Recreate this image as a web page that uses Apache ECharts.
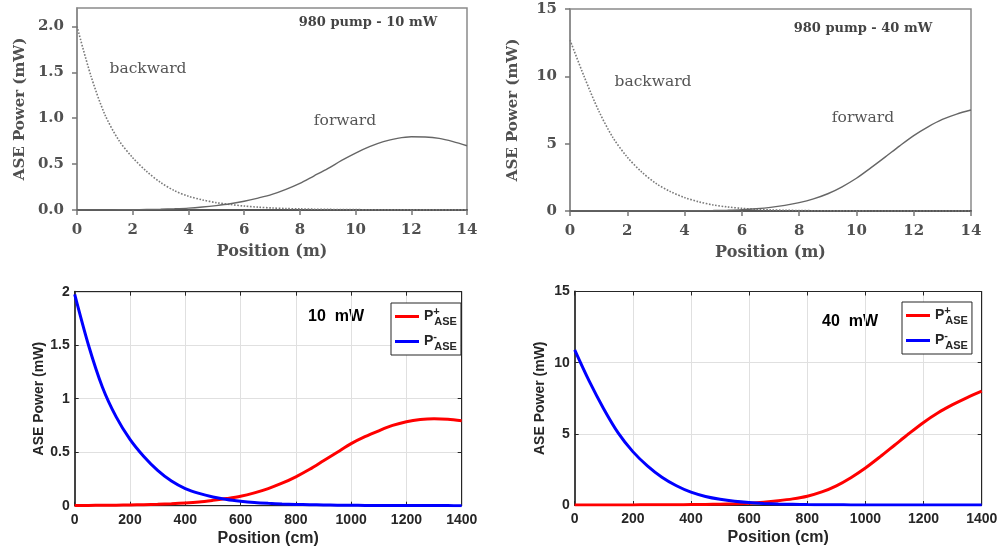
<!DOCTYPE html>
<html>
<head>
<meta charset="utf-8">
<script src="https://cdn.jsdelivr.net/npm/echarts@6/dist/echarts.min.js"></script>
<style>html,body{margin:0;padding:0;background:#fff;}#c{width:1001px;height:549px;}</style>
</head>
<body>
<div id="c"></div>
<script>
// ---- data ----
const posM = [0,0.5,1,1.5,2,2.5,3,3.5,4,4.5,5,5.5,6,6.5,7,7.5,8,8.5,9,9.5,10,10.5,11,11.5,12,12.5,13,13.5,14];
const back10 = [2.0,1.46,1.04,0.76,0.57,0.42,0.3,0.21,0.15,0.11,0.08,0.06,0.043,0.031,0.022,0.016,0.012,0.009,0.007,0.005,0.004,0.003,0.003,0.002,0.002,0.001,0.001,0.001,0.001];
const fwd10  = [0,0.001,0.001,0.002,0.003,0.005,0.008,0.013,0.02,0.032,0.048,0.068,0.095,0.13,0.17,0.225,0.29,0.37,0.45,0.54,0.62,0.69,0.745,0.78,0.797,0.795,0.78,0.745,0.7];
const back40 = [12.7,9.95,7.45,5.45,4.0,2.9,2.05,1.45,1.0,0.68,0.45,0.3,0.2,0.13,0.08,0.055,0.035,0.022,0.015,0.01,0.007,0.005,0.003,0.002,0.001,0.001,0,0,0];
const fwd40  = [0,0,0,0.001,0.002,0.003,0.005,0.007,0.01,0.02,0.035,0.06,0.1,0.17,0.27,0.42,0.62,0.9,1.28,1.8,2.43,3.2,4.0,4.82,5.6,6.25,6.8,7.2,7.5];

const posCm = [0,50,100,150,200,250,300,350,400,450,500,550,600,650,700,750,800,850,900,950,1000,1050,1100,1150,1200,1250,1300,1350,1400];
const pMinus10 = [1.975,1.5,1.11,0.83,0.62,0.46,0.33,0.23,0.16,0.115,0.082,0.058,0.042,0.03,0.022,0.016,0.012,0.009,0.007,0.005,0.004,0.003,0.003,0.002,0.002,0.001,0.001,0.001,0];
const pPlus10  = [0.002,0.003,0.004,0.005,0.007,0.009,0.013,0.018,0.025,0.035,0.05,0.067,0.088,0.12,0.16,0.21,0.27,0.34,0.42,0.5,0.58,0.645,0.7,0.75,0.785,0.805,0.812,0.808,0.795];
const pMinus40 = [10.9,8.7,6.75,5.05,3.75,2.75,1.95,1.35,0.9,0.6,0.4,0.26,0.17,0.11,0.07,0.05,0.03,0.02,0.012,0.008,0.005,0.004,0.003,0.002,0.002,0.001,0.001,0,0];
const pPlus40  = [0.003,0.004,0.005,0.006,0.008,0.011,0.015,0.02,0.03,0.042,0.06,0.09,0.13,0.2,0.3,0.43,0.62,0.92,1.35,1.92,2.6,3.38,4.2,5.02,5.8,6.48,7.05,7.55,8.0];

const yTicks10 = [0,0.5,1,1.5,2];

// ---- helpers ----
const zip = (xs, ys) => xs.map((x, i) => [x, ys[i]]);
const SERIF = 'DejaVu Serif';
const SANS = 'Liberation Sans';

const grids = [
  {left: 77, top: 8, width: 390, height: 202, show: true, borderColor: '#8a8a8a', borderWidth: 1.5},
  {left: 570, top: 9, width: 401, height: 202, show: true, borderColor: '#8a8a8a', borderWidth: 1.5},
  {left: 74.7, top: 291.7, width: 387, height: 214, show: true, borderColor: '#262626', borderWidth: 1},
  {left: 574.7, top: 291.5, width: 407, height: 213.5, show: true, borderColor: '#262626', borderWidth: 1}
];

function topX(gi) {
  return {
    type: 'value', gridIndex: gi, min: 0, max: 14, interval: 2,
    name: 'Position (m)', nameLocation: 'middle', nameGap: 34,
    nameTextStyle: {fontFamily: SERIF, fontWeight: 'bold', fontSize: 16, color: '#505050'},
    axisLine: {show: true, onZero: false, lineStyle: {color: '#555', width: 2}},
    axisTick: {show: true, inside: false, length: 5, lineStyle: {color: '#777', width: 1.5}},
    axisLabel: {margin: 13, fontFamily: SERIF, fontWeight: 'bold', fontSize: 15, color: '#505050'},
    splitLine: {show: false}
  };
}
function topY(gi, max, interval, fmt, custom) {
  const o = {
    type: 'value', gridIndex: gi, min: 0, max: max, interval: interval,
    name: 'ASE Power (mW)', nameLocation: 'middle', nameGap: 49,
    nameTextStyle: {fontFamily: SERIF, fontWeight: 'bold', fontSize: 15, color: '#505050'},
    axisLine: {show: true, lineStyle: {color: '#888', width: 1.5}},
    axisTick: {show: true, inside: false, length: 5, lineStyle: {color: '#777', width: 1.5}},
    axisLabel: {margin: 13, fontFamily: SERIF, fontWeight: 'bold', fontSize: 15, color: '#505050', formatter: fmt},
    splitLine: {show: false}
  };
  if (custom) { o.axisLabel.customValues = custom; o.axisTick.customValues = custom; }
  return o;
}
function botX(gi, position) {
  const main = position === 'bottom';
  return {
    type: 'value', gridIndex: gi, min: 0, max: 1400, interval: 200, position: position,
    name: main ? 'Position (cm)' : '', nameLocation: 'middle', nameGap: 25,
    nameTextStyle: {fontFamily: SANS, fontWeight: 'bold', fontSize: 16, color: '#262626'},
    axisLine: {show: true, onZero: false, lineStyle: {color: '#262626', width: 1}},
    axisTick: {show: true, inside: true, length: 4, lineStyle: {color: '#262626', width: 1}},
    axisLabel: {show: main, margin: 7, fontFamily: SANS, fontWeight: 'bold', fontSize: 14, color: '#262626', formatter: v => String(v)},
    splitLine: {show: main, lineStyle: {color: '#e0e0e0', width: 1}}
  };
}
function botY(gi, max, interval, position, gap) {
  const main = position === 'left';
  return {
    type: 'value', gridIndex: gi, min: 0, max: max, interval: interval, position: position,
    name: main ? 'ASE Power (mW)' : '', nameLocation: 'middle', nameGap: gap,
    nameTextStyle: {fontFamily: SANS, fontWeight: 'bold', fontSize: 14, color: '#262626'},
    axisLine: {show: true, onZero: false, lineStyle: {color: main ? '#333' : '#262626', width: main ? 1.8 : 1}},
    axisTick: {show: true, inside: true, length: 4, lineStyle: {color: '#262626', width: 1}},
    axisLabel: {show: main, margin: 5, fontFamily: SANS, fontWeight: 'bold', fontSize: 14, color: '#262626', formatter: v => String(v)},
    splitLine: {show: main, lineStyle: {color: '#e0e0e0', width: 1}}
  };
}

const xAxes = [topX(0), topX(1), botX(2, 'bottom'), botX(3, 'bottom'), botX(2, 'top'), botX(3, 'top')];
const yAxes = [
  topY(0, 2.2, 0.5, v => v.toFixed(1), yTicks10),
  topY(1, 15, 5, v => String(v), null),
  botY(2, 2, 0.5, 'left', 29), botY(3, 15, 5, 'left', 28),
  botY(2, 2, 0.5, 'right', 0), botY(3, 15, 5, 'right', 0)
];

function line(name, xi, data, color, width, type) {
  return {
    name: name, type: 'line', xAxisIndex: xi, yAxisIndex: xi, data: data,
    showSymbol: false, symbol: 'none', smooth: 0.3,
    lineStyle: {color: color, width: width, type: type || 'solid'}, itemStyle: {color: color},
    silent: true, animation: false
  };
}

const series = [
  line('back10', 0, zip(posM, back10), '#7a7a7a', 1.6, 'dotted'),
  line('fwd10', 0, zip(posM, fwd10), '#666', 1.4),
  line('back40', 1, zip(posM, back40), '#7a7a7a', 1.6, 'dotted'),
  line('fwd40', 1, zip(posM, fwd40), '#666', 1.4),
  line('10+', 2, zip(posCm, pPlus10), '#ff0000', 3),
  line('10-', 2, zip(posCm, pMinus10), '#0000ff', 3),
  line('40+', 3, zip(posCm, pPlus40), '#ff0000', 3),
  line('40-', 3, zip(posCm, pMinus40), '#0000ff', 3)
];

const legRich = {
  p: {fontFamily: SANS, fontWeight: 'bold', fontSize: 14, color: '#262626', verticalAlign: 'middle'},
  sup: {fontFamily: SANS, fontWeight: 'bold', fontSize: 11, color: '#262626', verticalAlign: 'top', width: 1},
  sub: {fontFamily: SANS, fontWeight: 'bold', fontSize: 11, color: '#262626', verticalAlign: 'bottom'}
};
function legend(left, top, names) {
  return {
    left: left, top: top, orient: 'vertical', data: names,
    icon: 'rect', itemWidth: 24, itemHeight: 3, itemGap: 4,
    padding: [3, 4, 3, 4], borderColor: '#262626', borderWidth: 1, borderRadius: 0,
    backgroundColor: '#fff', selectedMode: false,
    formatter: n => n.endsWith('+') ? '{p|P}{sup|+}{sub|ASE}' : '{p|P}{sup|-}{sub|ASE}',
    textStyle: {lineHeight: 21, rich: legRich}
  };
}

const texts = [
  {t: '980 pump - 10 mW', x: 368, y: 23, f: SERIF, w: 'bold', s: 13, c: '#444'},
  {t: 'backward', x: 148, y: 69, f: SERIF, w: 'normal', s: 15.5, c: '#555'},
  {t: 'forward', x: 345, y: 121, f: SERIF, w: 'normal', s: 15.5, c: '#555'},
  {t: '980 pump - 40 mW', x: 863, y: 29, f: SERIF, w: 'bold', s: 13, c: '#444'},
  {t: 'backward', x: 653, y: 82, f: SERIF, w: 'normal', s: 15.5, c: '#555'},
  {t: 'forward', x: 863, y: 118, f: SERIF, w: 'normal', s: 15.5, c: '#555'},
  {t: '10  mW', x: 336, y: 317, f: SANS, w: 'bold', s: 16, c: '#000'},
  {t: '40  mW', x: 850, y: 322, f: SANS, w: 'bold', s: 16, c: '#000'}
];

const chart = echarts.init(document.getElementById('c'), null, {renderer: 'canvas'});
chart.setOption({
  backgroundColor: '#fff',
  animation: false,
  grid: grids,
  xAxis: xAxes,
  yAxis: yAxes,
  series: series,
  legend: [legend(391, 303, ['10+', '10-']), legend(902, 302, ['40+', '40-'])],
  graphic: texts.map(o => ({
    type: 'text', x: o.x, y: o.y, silent: true,
    style: {text: o.t, fontFamily: o.f, fontWeight: o.w, fontSize: o.s, fill: o.c, align: 'center', verticalAlign: 'middle'}
  }))
});
</script>
</body>
</html>
